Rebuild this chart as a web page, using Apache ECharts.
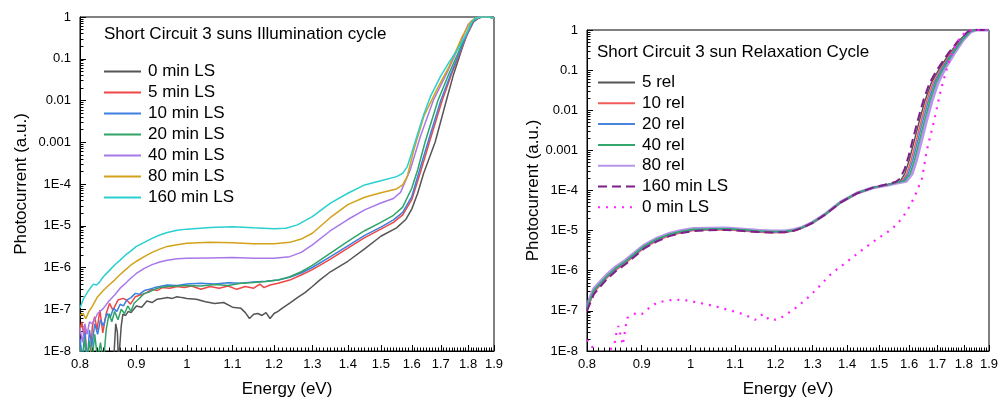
<!DOCTYPE html>
<html><head><meta charset="utf-8">
<script src="https://cdn.jsdelivr.net/npm/echarts@6/dist/echarts.min.js"></script>
<style>html,body{margin:0;padding:0;background:#fff}#c{width:1003px;height:403px}</style>
</head><body><div id="c"></div>
<script>
// ---------- tick labels ----------
const X_MAJOR_TICKS = [0.8,0.9,1.0,1.1,1.2,1.3,1.4,1.5,1.6,1.7,1.8,1.9];
const X_TICK_LABELS = ['0.8','0.9','1','1.1','1.2','1.3','1.4','1.5','1.6','1.7','1.8','1.9'];
const Y_MAJOR_TICKS = [1e-8,1e-7,1e-6,1e-5,1e-4,1e-3,1e-2,1e-1,1];
const Y_TICK_LABELS = ['1E-8','1E-7','1E-6','1E-5','1E-4','0.001','0.01','0.1','1'];

// ---------- left chart: illumination cycle [energy eV, photocurrent] ----------
const LS0 = [[0.858,5e-9],[0.862,4.5e-8],[0.865,2.8e-8],[0.867,5e-9],[0.869,5e-9],[0.872,4.0e-8],[0.875,7.6e-8],[0.88,7.1e-8],[0.885,8.9e-8],[0.89,8.3e-8],[0.90,1.2e-7],[0.91,1.12e-7],[0.92,1.58e-7],[0.93,1.45e-7],[0.94,1.74e-7],[0.95,1.82e-7],[0.96,1.9e-7],[0.97,1.82e-7],[0.98,2.0e-7],[0.99,1.9e-7],[1.00,1.82e-7],[1.02,1.74e-7],[1.04,1.51e-7],[1.06,1.38e-7],[1.08,1.45e-7],[1.10,1.12e-7],[1.12,1.05e-7],[1.13,8.3e-8],[1.14,6.0e-8],[1.15,7.6e-8],[1.16,7.9e-8],[1.17,7.1e-8],[1.18,8.3e-8],[1.19,6.0e-8],[1.20,7.9e-8],[1.21,8.9e-8],[1.22,1.05e-7],[1.24,1.41e-7],[1.26,1.9e-7],[1.28,2.5e-7],[1.30,3.5e-7],[1.32,5.0e-7],[1.35,7.9e-7],[1.40,1.41e-6],[1.45,2.8e-6],[1.50,5.6e-6],[1.55,8.9e-6],[1.58,1.41e-5],[1.60,2.5e-5],[1.62,6.0e-5],[1.64,1.78e-4],[1.68,1.0e-3],[1.72,1.0e-2],[1.745,4.0e-2],[1.77,0.126],[1.796,0.40],[1.82,0.76],[1.84,0.95],[1.855,1.0],[1.88,1.0],[1.90,0.93]];
const LS5 = [[0.800,3.2e-8],[0.803,5.0e-8],[0.806,2.5e-8],[0.808,3.8e-8],[0.812,6.3e-9],[0.817,5e-9],[0.821,4.0e-8],[0.825,6.6e-8],[0.829,3.2e-8],[0.834,9.5e-8],[0.839,2.7e-8],[0.845,7.9e-8],[0.851,1.38e-7],[0.857,9.5e-8],[0.866,1.66e-7],[0.875,1.82e-7],[0.882,1.66e-7],[0.889,1.32e-7],[0.898,2.0e-7],[0.907,2.2e-7],[0.917,2.4e-7],[0.930,3.0e-7],[0.940,2.8e-7],[0.950,3.3e-7],[0.965,3.2e-7],[0.980,3.5e-7],[0.995,3.3e-7],[1.010,3.6e-7],[1.030,3.0e-7],[1.050,3.5e-7],[1.070,3.2e-7],[1.090,3.6e-7],[1.110,3.0e-7],[1.130,3.5e-7],[1.150,3.2e-7],[1.165,4.0e-7],[1.175,3.3e-7],[1.190,3.8e-7],[1.210,4.2e-7],[1.240,5.0e-7],[1.270,6.6e-7],[1.300,8.9e-7],[1.350,1.58e-6],[1.400,2.9e-6],[1.450,5.2e-6],[1.500,8.3e-6],[1.540,1.2e-5],[1.570,1.82e-5],[1.600,4.2e-5],[1.628,1.78e-4],[1.660,1.0e-3],[1.705,1.0e-2],[1.740,4.5e-2],[1.767,0.126],[1.795,0.355],[1.820,0.76],[1.840,0.95],[1.850,1.0],[1.880,1.0],[1.900,0.95]];
const LS10 = [[0.800,2.0e-8],[0.804,6.3e-9],[0.808,2.8e-8],[0.812,5e-9],[0.816,3.2e-8],[0.820,1.26e-8],[0.825,4.5e-8],[0.830,2.5e-8],[0.835,5.6e-8],[0.840,4.0e-8],[0.846,7.9e-8],[0.852,6.3e-8],[0.858,1.05e-7],[0.864,8.9e-8],[0.870,1.32e-7],[0.876,1.2e-7],[0.882,1.66e-7],[0.890,1.9e-7],[0.898,2.4e-7],[0.906,2.3e-7],[0.915,2.8e-7],[0.925,3.0e-7],[0.935,3.3e-7],[0.945,3.5e-7],[0.960,3.8e-7],[0.980,3.7e-7],[1.000,4.0e-7],[1.030,4.2e-7],[1.060,4.0e-7],[1.090,4.3e-7],[1.120,4.2e-7],[1.150,4.5e-7],[1.180,4.7e-7],[1.210,5.0e-7],[1.240,5.8e-7],[1.270,7.4e-7],[1.300,1.0e-6],[1.350,1.82e-6],[1.400,3.3e-6],[1.450,5.9e-6],[1.500,9.3e-6],[1.540,1.38e-5],[1.570,2.1e-5],[1.600,5.0e-5],[1.625,2.0e-4],[1.655,1.0e-3],[1.700,1.0e-2],[1.737,4.5e-2],[1.765,0.126],[1.793,0.355],[1.818,0.76],[1.838,0.95],[1.850,1.0],[1.880,1.0],[1.900,0.95]];
const LS20 = [[0.800,1.26e-8],[0.804,5e-9],[0.808,2.0e-8],[0.812,6.3e-9],[0.816,1.78e-8],[0.820,5e-9],[0.825,2.5e-8],[0.830,6.3e-9],[0.835,1.58e-8],[0.840,5e-9],[0.845,3.2e-8],[0.850,7.9e-8],[0.855,5.0e-8],[0.860,8.9e-8],[0.866,5.6e-8],[0.872,1.0e-7],[0.878,7.9e-8],[0.884,1.2e-7],[0.890,8.9e-8],[0.896,1.41e-7],[0.905,1.78e-7],[0.915,2.4e-7],[0.925,2.6e-7],[0.935,3.0e-7],[0.945,3.3e-7],[0.960,3.5e-7],[0.980,3.6e-7],[1.000,3.7e-7],[1.030,3.6e-7],[1.060,3.9e-7],[1.090,3.7e-7],[1.120,4.2e-7],[1.150,4.4e-7],[1.180,4.6e-7],[1.210,5.0e-7],[1.240,6.0e-7],[1.270,7.9e-7],[1.300,1.12e-6],[1.350,2.2e-6],[1.400,4.2e-6],[1.450,7.6e-6],[1.500,1.2e-5],[1.540,1.78e-5],[1.570,2.8e-5],[1.600,7.9e-5],[1.620,2.2e-4],[1.645,1.0e-3],[1.690,1.0e-2],[1.730,4.5e-2],[1.760,0.126],[1.790,0.355],[1.815,0.76],[1.835,0.95],[1.850,1.0],[1.880,1.0],[1.900,0.95]];
const LS40 = [[0.800,3.5e-8],[0.804,1.6e-8],[0.808,4.5e-8],[0.812,2.5e-8],[0.816,5.0e-8],[0.820,4.5e-8],[0.825,5.6e-8],[0.830,7.9e-8],[0.840,1.05e-7],[0.850,1.58e-7],[0.860,2.2e-7],[0.870,3.2e-7],[0.880,4.2e-7],[0.890,5.6e-7],[0.900,7.2e-7],[0.915,9.5e-7],[0.930,1.17e-6],[0.945,1.35e-6],[0.960,1.5e-6],[0.980,1.62e-6],[1.000,1.66e-6],[1.050,1.7e-6],[1.100,1.74e-6],[1.150,1.66e-6],[1.200,1.66e-6],[1.240,1.82e-6],[1.270,2.3e-6],[1.300,3.5e-6],[1.350,7.6e-6],[1.400,1.41e-5],[1.450,2.4e-5],[1.500,3.5e-5],[1.540,4.5e-5],[1.563,6.3e-5],[1.595,2.2e-4],[1.629,1.38e-3],[1.675,1.05e-2],[1.722,4.6e-2],[1.771,0.24],[1.800,0.66],[1.825,0.91],[1.845,1.0],[1.880,1.0],[1.900,0.95]];
const LS80 = [[0.800,7.2e-8],[0.805,7.9e-8],[0.810,6.0e-8],[0.815,8.9e-8],[0.820,1.12e-7],[0.830,2.0e-7],[0.840,2.8e-7],[0.850,3.8e-7],[0.860,5.0e-7],[0.870,6.8e-7],[0.880,8.9e-7],[0.890,1.15e-6],[0.900,1.41e-6],[0.915,1.82e-6],[0.930,2.3e-6],[0.945,2.75e-6],[0.960,3.2e-6],[0.980,3.5e-6],[1.000,3.8e-6],[1.050,4.0e-6],[1.100,3.9e-6],[1.150,3.7e-6],[1.200,3.7e-6],[1.240,4.0e-6],[1.270,4.8e-6],[1.300,6.6e-6],[1.350,1.58e-5],[1.400,3.2e-5],[1.450,4.8e-5],[1.500,6.2e-5],[1.550,7.6e-5],[1.570,9.5e-5],[1.585,1.5e-4],[1.607,6.6e-4],[1.641,4.2e-3],[1.686,1.82e-2],[1.730,6.6e-2],[1.778,0.34],[1.810,0.79],[1.830,0.95],[1.845,1.0],[1.880,1.0],[1.900,0.95]];
const LS160 = [[0.800,1.07e-7],[0.806,1.8e-7],[0.812,2.5e-7],[0.818,3.3e-7],[0.823,4.0e-7],[0.828,3.8e-7],[0.833,4.4e-7],[0.840,6.0e-7],[0.850,8.3e-7],[0.860,1.15e-6],[0.870,1.5e-6],[0.880,2.0e-6],[0.890,2.5e-6],[0.900,3.2e-6],[0.915,4.0e-6],[0.930,5.0e-6],[0.945,6.0e-6],[0.960,6.9e-6],[0.980,7.8e-6],[1.000,8.3e-6],[1.050,9.1e-6],[1.100,9.5e-6],[1.150,8.9e-6],[1.200,8.5e-6],[1.230,8.7e-6],[1.260,1.05e-5],[1.300,1.66e-5],[1.350,3.5e-5],[1.400,6.0e-5],[1.450,9.5e-5],[1.500,1.2e-4],[1.550,1.5e-4],[1.570,1.8e-4],[1.585,2.6e-4],[1.600,5.6e-4],[1.617,1.38e-3],[1.640,4.5e-3],[1.664,1.26e-2],[1.699,3.8e-2],[1.730,8.3e-2],[1.760,0.166],[1.790,0.355],[1.815,0.79],[1.830,0.95],[1.845,1.0],[1.880,1.0],[1.900,0.95]];

// ---------- right chart: relaxation cycle ----------
const R5 = [[0.800,1.12e-7],[0.805,1.78e-7],[0.812,3.1e-7],[0.823,4.6e-7],[0.835,7.0e-7],[0.850,1.08e-6],[0.869,1.64e-6],[0.887,2.55e-6],[0.905,3.95e-6],[0.930,5.9e-6],[0.955,7.8e-6],[0.980,9.2e-6],[1.006,1.04e-5],[1.040,1.06e-5],[1.080,1.09e-5],[1.120,1.01e-5],[1.156,9.4e-6],[1.190,9.2e-6],[1.225,9.2e-6],[1.250,1.01e-5],[1.270,1.16e-5],[1.300,1.57e-5],[1.335,2.5e-5],[1.380,5.0e-5],[1.430,8.5e-5],[1.480,1.17e-4],[1.530,1.42e-4],[1.555,1.6e-4],[1.570,1.74e-4],[1.585,2.6e-4],[1.600,5.6e-4],[1.618,1.78e-3],[1.636,5.6e-3],[1.656,1.78e-2],[1.678,4.8e-2],[1.706,0.105],[1.745,0.26],[1.784,0.56],[1.818,0.91],[1.840,1.0],[1.900,1.0]];
const R10 = [[0.800,1.0e-7],[0.805,1.6e-7],[0.812,2.9e-7],[0.823,4.3e-7],[0.835,6.6e-7],[0.850,1.0e-6],[0.869,1.55e-6],[0.887,2.4e-6],[0.905,3.7e-6],[0.930,5.6e-6],[0.955,7.4e-6],[0.980,8.8e-6],[1.006,1.0e-5],[1.040,1.03e-5],[1.080,1.05e-5],[1.120,9.8e-6],[1.156,9.1e-6],[1.190,8.9e-6],[1.225,9.0e-6],[1.250,9.9e-6],[1.270,1.15e-5],[1.300,1.55e-5],[1.335,2.45e-5],[1.380,4.9e-5],[1.430,8.4e-5],[1.480,1.16e-4],[1.530,1.4e-4],[1.555,1.55e-4],[1.575,1.7e-4],[1.591,2.5e-4],[1.606,5.4e-4],[1.624,1.7e-3],[1.642,5.4e-3],[1.662,1.74e-2],[1.684,4.7e-2],[1.711,0.10],[1.750,0.26],[1.788,0.55],[1.821,0.90],[1.842,1.0],[1.900,1.0]];
const R20 = [[0.800,1.12e-7],[0.805,1.78e-7],[0.812,3.16e-7],[0.823,4.7e-7],[0.835,7.1e-7],[0.850,1.1e-6],[0.869,1.66e-6],[0.887,2.6e-6],[0.905,4.0e-6],[0.930,6.0e-6],[0.955,7.9e-6],[0.980,9.3e-6],[1.006,1.05e-5],[1.040,1.07e-5],[1.080,1.1e-5],[1.120,1.02e-5],[1.156,9.5e-6],[1.190,9.3e-6],[1.225,9.3e-6],[1.250,1.02e-5],[1.270,1.17e-5],[1.300,1.58e-5],[1.335,2.5e-5],[1.380,5.0e-5],[1.430,8.5e-5],[1.480,1.17e-4],[1.530,1.41e-4],[1.555,1.58e-4],[1.580,1.72e-4],[1.597,2.6e-4],[1.612,5.5e-4],[1.630,1.75e-3],[1.648,5.5e-3],[1.668,1.76e-2],[1.690,4.8e-2],[1.716,0.104],[1.754,0.26],[1.791,0.56],[1.823,0.91],[1.844,1.0],[1.900,1.0]];
const R40 = [[0.800,1.15e-7],[0.805,1.85e-7],[0.812,3.3e-7],[0.823,4.9e-7],[0.835,7.4e-7],[0.850,1.14e-6],[0.869,1.72e-6],[0.887,2.7e-6],[0.905,4.15e-6],[0.930,6.2e-6],[0.955,8.1e-6],[0.980,9.6e-6],[1.006,1.08e-5],[1.040,1.1e-5],[1.080,1.12e-5],[1.120,1.05e-5],[1.156,9.8e-6],[1.190,9.5e-6],[1.225,9.5e-6],[1.250,1.04e-5],[1.270,1.19e-5],[1.300,1.6e-5],[1.335,2.55e-5],[1.380,5.1e-5],[1.430,8.6e-5],[1.480,1.18e-4],[1.530,1.42e-4],[1.555,1.57e-4],[1.585,1.75e-4],[1.603,2.6e-4],[1.618,5.6e-4],[1.636,1.8e-3],[1.654,5.6e-3],[1.674,1.8e-2],[1.695,4.8e-2],[1.721,0.105],[1.758,0.26],[1.794,0.56],[1.825,0.91],[1.846,1.0],[1.900,1.0]];
const R80 = [[0.800,1.3e-7],[0.805,2.1e-7],[0.812,3.6e-7],[0.823,5.3e-7],[0.835,8.0e-7],[0.850,1.22e-6],[0.869,1.82e-6],[0.887,2.85e-6],[0.905,4.35e-6],[0.930,6.5e-6],[0.955,8.5e-6],[0.980,1.0e-5],[1.006,1.12e-5],[1.040,1.14e-5],[1.080,1.16e-5],[1.120,1.08e-5],[1.156,1.01e-5],[1.190,9.8e-6],[1.225,9.8e-6],[1.250,1.06e-5],[1.270,1.2e-5],[1.300,1.6e-5],[1.335,2.55e-5],[1.380,5.1e-5],[1.430,8.6e-5],[1.480,1.17e-4],[1.530,1.38e-4],[1.555,1.52e-4],[1.590,1.7e-4],[1.610,2.6e-4],[1.625,5.6e-4],[1.643,1.78e-3],[1.661,5.6e-3],[1.681,1.78e-2],[1.702,4.8e-2],[1.727,0.105],[1.763,0.26],[1.797,0.56],[1.827,0.91],[1.848,1.0],[1.900,1.0]];
const R160LS = [[0.800,1.0e-7],[0.805,1.5e-7],[0.812,2.6e-7],[0.823,4.0e-7],[0.835,6.2e-7],[0.850,9.5e-7],[0.869,1.45e-6],[0.887,2.3e-6],[0.905,3.6e-6],[0.930,5.4e-6],[0.955,7.3e-6],[0.980,8.7e-6],[1.006,9.8e-6],[1.040,1.02e-5],[1.080,1.04e-5],[1.120,9.8e-6],[1.156,9.2e-6],[1.190,9.0e-6],[1.225,9.1e-6],[1.250,1.0e-5],[1.270,1.16e-5],[1.300,1.57e-5],[1.335,2.5e-5],[1.380,5.0e-5],[1.430,8.5e-5],[1.480,1.18e-4],[1.530,1.45e-4],[1.555,1.65e-4],[1.570,2.0e-4],[1.585,3.5e-4],[1.598,7.1e-4],[1.612,1.78e-3],[1.630,5.6e-3],[1.650,1.78e-2],[1.672,4.8e-2],[1.700,0.105],[1.740,0.26],[1.780,0.56],[1.815,0.91],[1.840,1.0],[1.900,1.0]];
const R0LS = [[0.800,1.9e-8],[0.806,1.41e-8],[0.812,1.12e-8],[0.818,8.9e-9],[0.826,7.9e-9],[0.834,8.9e-9],[0.842,1.12e-8],[0.849,1.58e-8],[0.853,3.2e-8],[0.856,4.2e-8],[0.860,2.5e-8],[0.864,1.41e-8],[0.869,3.7e-8],[0.872,6.6e-8],[0.880,7.6e-8],[0.890,8.9e-8],[0.900,8.3e-8],[0.914,1.17e-7],[0.929,1.58e-7],[0.950,1.82e-7],[0.970,1.9e-7],[0.987,1.86e-7],[1.005,1.7e-7],[1.023,1.55e-7],[1.040,1.41e-7],[1.059,1.26e-7],[1.075,1.12e-7],[1.093,1.0e-7],[1.110,8.9e-8],[1.128,7.6e-8],[1.149,6.0e-8],[1.160,7.6e-8],[1.171,8.3e-8],[1.182,6.3e-8],[1.191,6.6e-8],[1.200,6.0e-8],[1.213,6.6e-8],[1.225,7.9e-8],[1.237,9.3e-8],[1.259,1.29e-7],[1.293,2.4e-7],[1.320,4.2e-7],[1.350,7.9e-7],[1.380,1.26e-6],[1.418,2.2e-6],[1.450,3.5e-6],[1.491,6.0e-6],[1.530,9.5e-6],[1.547,1.2e-5],[1.570,1.82e-5],[1.592,3.0e-5],[1.612,5.6e-5],[1.628,1.0e-4],[1.645,2.0e-4],[1.662,1.0e-3],[1.688,5.4e-3],[1.713,3.2e-2],[1.740,0.141],[1.765,0.38],[1.790,0.72],[1.815,0.95],[1.840,1.0],[1.900,1.0]];

// ---------- build chart ----------
const FONT = '"Liberation Sans", Arial, sans-serif';
const X_MINOR = []; for (let i = 81; i < 190; i++) { if (i % 10) X_MINOR.push(i / 100); }
const Y_MINOR = []; for (let k = -8; k < 0; k++) for (let m = 2; m <= 9; m++) Y_MINOR.push(m * Math.pow(10, k));

function xLab(v) { const i = X_MAJOR_TICKS.findIndex(t => Math.abs(t - v) < 1e-6); return i < 0 ? '' : X_TICK_LABELS[i]; }
function yLab(v) { const i = Y_MAJOR_TICKS.findIndex(t => Math.abs(Math.log10(t / v)) < 1e-3); return i < 0 ? '' : Y_TICK_LABELS[i]; }

const TICK_STYLE = { color: '#000', width: 1 };
function xAxes(g) {
  const base = { type: 'log', logBase: 10, gridIndex: g, position: 'bottom', min: 0.8, max: 1.9, splitLine: { show: false } };
  return [
    Object.assign({}, base, {
      axisLine: { show: true, lineStyle: { color: '#000', width: 1 } },
      axisTick: { show: true, inside: true, length: 6, customValues: X_MAJOR_TICKS, lineStyle: TICK_STYLE },
      axisLabel: { show: true, customValues: X_MAJOR_TICKS, formatter: xLab, color: '#000', fontSize: 13, fontFamily: FONT, margin: 7 },
      name: 'Energy (eV)', nameLocation: 'middle', nameGap: 30,
      nameTextStyle: { fontSize: 17, color: '#000', fontFamily: FONT }
    }),
    Object.assign({}, base, {
      axisLine: { show: false },
      axisTick: { show: true, inside: true, length: 3.5, customValues: X_MINOR, lineStyle: TICK_STYLE },
      axisLabel: { show: false }
    })
  ];
}
function yAxes(g, nameGap) {
  const base = { type: 'log', logBase: 10, gridIndex: g, position: 'left', min: 1e-8, max: 1, splitLine: { show: false } };
  return [
    Object.assign({}, base, {
      axisLine: { show: true, lineStyle: { color: '#000', width: 1 } },
      axisTick: { show: true, inside: true, length: 6, customValues: Y_MAJOR_TICKS, lineStyle: TICK_STYLE },
      axisLabel: { show: true, customValues: Y_MAJOR_TICKS, formatter: yLab, color: '#000', fontSize: 13, fontFamily: FONT, margin: 9 },
      name: 'Photocurrent (a.u.)', nameLocation: 'middle', nameGap: nameGap, nameRotate: 90,
      nameTextStyle: { fontSize: 17, color: '#000', fontFamily: FONT }
    }),
    Object.assign({}, base, {
      axisLine: { show: false },
      axisTick: { show: true, inside: true, length: 3.5, customValues: Y_MINOR, lineStyle: TICK_STYLE },
      axisLabel: { show: false }
    })
  ];
}

function line(name, data, color, ax, extra) {
  const ls = Object.assign({ width: 1.5, color: color }, (extra && extra.lineStyle) || {});
  return {
    type: 'line', name: name, data: data, xAxisIndex: ax, yAxisIndex: ax,
    symbol: 'none', showSymbol: false, smooth: false, clip: true, animation: false,
    lineStyle: ls, itemStyle: { color: color }, z: (extra && extra.z) || 2
  };
}

const LEFT_NAMES = ['0 min LS','5 min LS','10 min LS','20 min LS','40 min LS','80 min LS','160 min LS'];
const RIGHT_NAMES = ['5 rel','10 rel','20 rel','40 rel','80 rel','160 min LS (relaxation panel)','0 min LS (relaxation panel)'];

const series = [
  line(LEFT_NAMES[0], LS0, '#555555', 0),
  line(LEFT_NAMES[1], LS5, '#ef4646', 0),
  line(LEFT_NAMES[2], LS10, '#3d7fe0', 0),
  line(LEFT_NAMES[3], LS20, '#30a466', 0),
  line(LEFT_NAMES[4], LS40, '#a878e8', 0),
  line(LEFT_NAMES[5], LS80, '#d2a21a', 0),
  line(LEFT_NAMES[6], LS160, '#2bcfcf', 0),
  line(RIGHT_NAMES[4], R80, 'rgba(170,130,232,0.85)', 2, { lineStyle: { width: 3.2 }, z: 2 }),
  line(RIGHT_NAMES[0], R5, '#555555', 2, { z: 3 }),
  line(RIGHT_NAMES[1], R10, '#f25a5a', 2, { z: 3 }),
  line(RIGHT_NAMES[2], R20, '#4884dc', 2, { z: 3 }),
  line(RIGHT_NAMES[3], R40, '#34a86c', 2, { z: 3 }),
  line(RIGHT_NAMES[5], R160LS, '#7e1f8a', 2, { lineStyle: { width: 2, type: [9, 5] }, z: 4 }),
  line(RIGHT_NAMES[6], R0LS, '#ff22ff', 2, { lineStyle: { width: 2.2, type: [2, 6] }, z: 4 })
];

const legendBase = {
  orient: 'vertical', itemWidth: 37, itemHeight: 14, itemGap: 4, selectedMode: false,
  textStyle: { fontSize: 17, color: '#000', fontFamily: FONT, padding: [0, 0, 0, 2] },
  itemStyle: { opacity: 0 }, lineStyle: { width: 2 }, padding: 0
};

const option = {
  animation: false,
  backgroundColor: '#fff',
  title: [
    { text: 'Short Circuit 3 suns Illumination cycle', left: 104, top: 26, padding: 0,
      textStyle: { fontSize: 17, fontWeight: 'normal', color: '#000', fontFamily: FONT } },
    { text: 'Short Circuit 3 sun Relaxation Cycle', left: 597, top: 44, padding: 0,
      textStyle: { fontSize: 17, fontWeight: 'normal', color: '#000', fontFamily: FONT } }
  ],
  legend: [
    Object.assign({}, legendBase, { left: 103, top: 63, data: LEFT_NAMES }),
    Object.assign({}, legendBase, { left: 597, top: 74, itemGap: 3.8, data: RIGHT_NAMES,
      formatter: n => n.split(' (')[0] })
  ],
  grid: [
    { left: 80, top: 17, width: 414, height: 334, show: true, borderColor: '#000', borderWidth: 1, backgroundColor: 'transparent' },
    { left: 587, top: 30, width: 402, height: 323, show: true, borderColor: '#000', borderWidth: 1, backgroundColor: 'transparent' }
  ],
  xAxis: xAxes(0).concat(xAxes(1)),
  yAxis: yAxes(0, 50).concat(yAxes(1, 45)),
  series: series
};

const chart = echarts.init(document.getElementById('c'), null, { renderer: 'canvas' });
chart.setOption(option);
</script></body></html>
